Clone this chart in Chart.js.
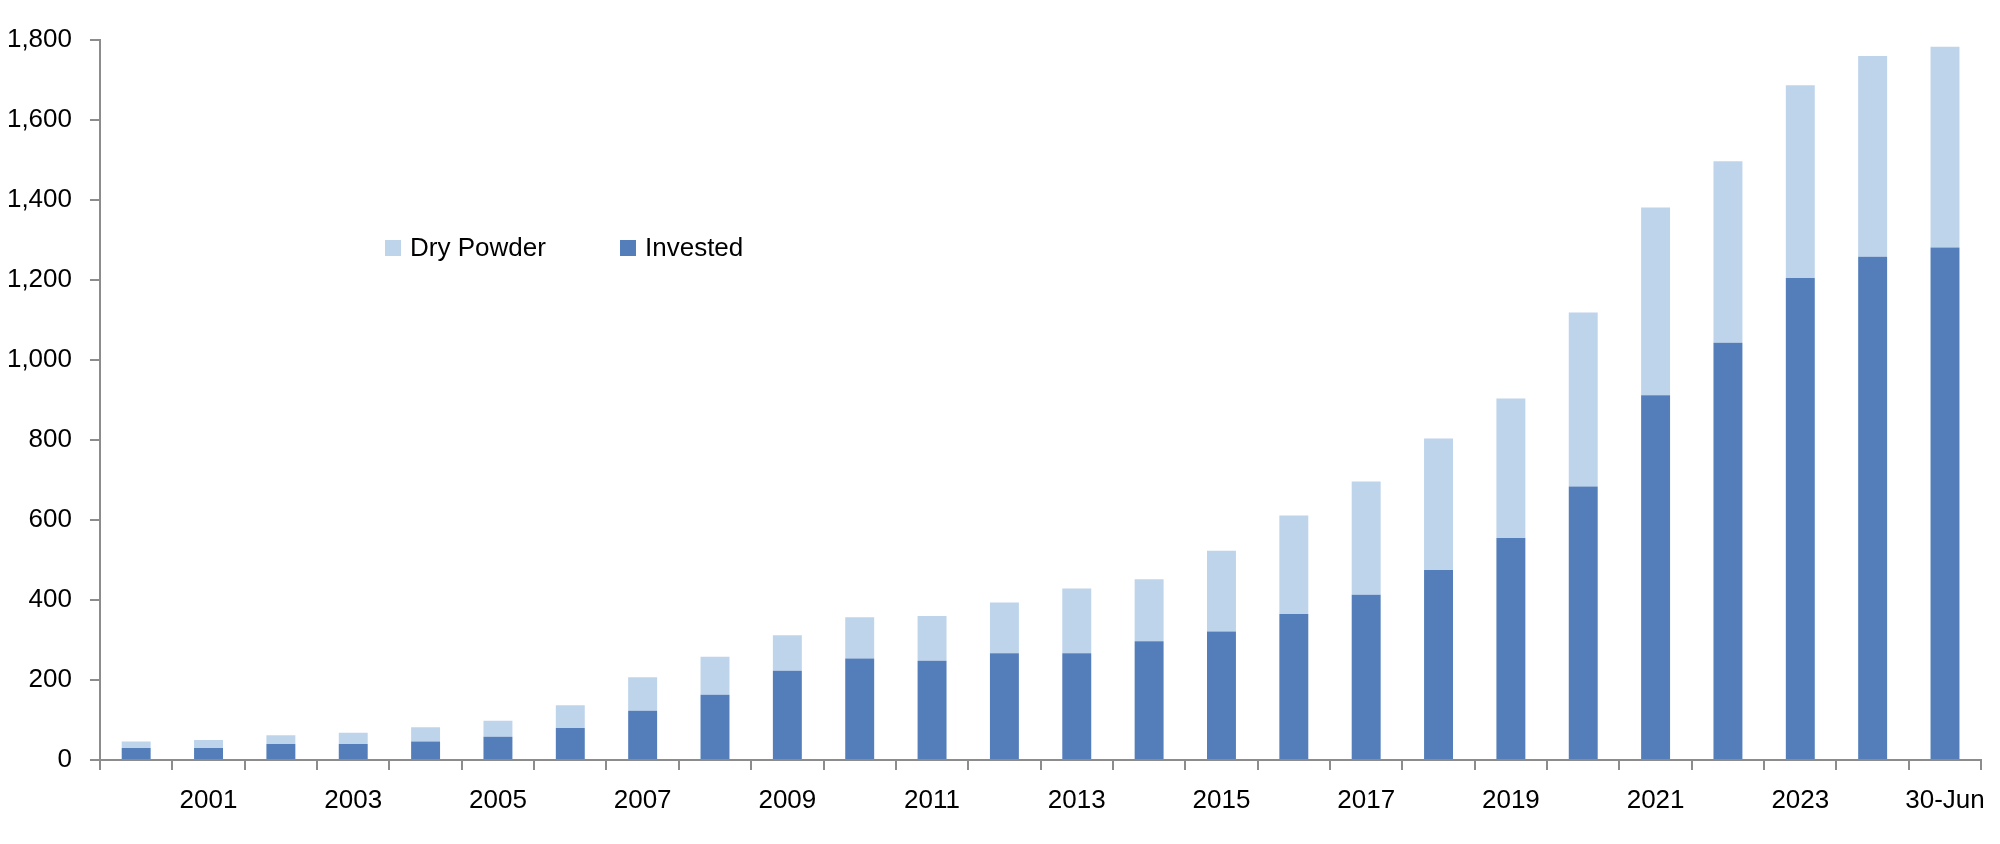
<!DOCTYPE html>
<html>
<head>
<meta charset="utf-8">
<script src="https://cdn.jsdelivr.net/npm/chart.js@4.4.0/dist/chart.umd.min.js"></script>
<style>
  html, body { margin: 0; padding: 0; background: #fff; }
  #wrap { width: 2000px; height: 844px; }
</style>
</head>
<body>
<div id="wrap"><canvas id="fund-chart" width="2000" height="844"></canvas></div>
<script>
// categories (x axis)
const years = ["2000", "2001", "2002", "2003", "2004", "2005", "2006", "2007", "2008", "2009",
  "2010", "2011", "2012", "2013", "2014", "2015", "2016", "2017", "2018", "2019",
  "2020", "2021", "2022", "2023", "2024", "30-Jun"];

// labels actually printed under the axis
const shownLabels = ["2001", "2003", "2005", "2007", "2009", "2011", "2013", "2015",
  "2017", "2019", "2021", "2023", "30-Jun"];

// series values
const invested = [30, 30, 40, 40, 46, 58, 80, 123, 163, 223, 254, 248, 267, 267, 297,
  321, 365, 413, 475, 555, 684, 912, 1043, 1205, 1258, 1281];
const dryPowder = [16, 20, 22, 28, 36, 40, 57, 84, 95, 89, 103, 112, 127, 162, 155,
  202, 246, 283, 329, 349, 435, 469, 454, 482, 502, 502];

// y axis ticks
const yTicks = [0, 200, 400, 600, 800, 1000, 1200, 1400, 1600, 1800];

const darkBlue = '#537eba';
const lightBlue = '#bdd4eb';
const axisGrey = '#8c8c8c';
const textColor = '#000';
const font = { family: "'Liberation Sans', Arial, sans-serif", size: 26 };

// legend drawn inside the plot, like the original
const insideLegend = {
  id: 'insideLegend',
  afterDraw(chart) {
    const ctx = chart.ctx;
    const order = [1, 0]; // Dry Powder first, then Invested
    const xs = [385, 620];
    const y = 248;
    ctx.save();
    ctx.font = `${font.size}px ${font.family}`;
    ctx.textBaseline = 'middle';
    ctx.textAlign = 'left';
    order.forEach((idx, i) => {
      const ds = chart.data.datasets[idx];
      ctx.fillStyle = ds.backgroundColor;
      ctx.fillRect(xs[i], y - 8, 16, 16);
      ctx.fillStyle = textColor;
      ctx.fillText(ds.label, xs[i] + 25, y + 1);
    });
    ctx.restore();
  }
};

const canvas = document.getElementById('fund-chart');

new Chart(canvas, {
  type: 'bar',
  data: {
    labels: years,
    datasets: [
      {
        label: 'Invested',
        data: invested,
        backgroundColor: darkBlue,
        barPercentage: 0.4,
        categoryPercentage: 1.0
      },
      {
        label: 'Dry Powder',
        data: dryPowder,
        backgroundColor: lightBlue,
        barPercentage: 0.4,
        categoryPercentage: 1.0
      }
    ]
  },
  options: {
    responsive: false,
    animation: false,
    layout: { padding: { top: 40, right: 13, left: 0, bottom: 0 } },
    plugins: {
      legend: { display: false },
      tooltip: { enabled: false }
    },
    scales: {
      x: {
        stacked: true,
        afterFit: (scale) => { scale.height = 84; },
        border: { display: true, color: axisGrey, width: 2 },
        grid: {
          offset: true,
          drawOnChartArea: false,
          drawTicks: true,
          tickLength: 10,
          color: axisGrey,
          lineWidth: 2
        },
        ticks: {
          autoSkip: false,
          maxRotation: 0,
          padding: 15,
          color: textColor,
          font: font,
          callback: function (value) {
            const lab = this.getLabelForValue(value);
            return shownLabels.includes(lab) ? lab : '';
          }
        }
      },
      y: {
        stacked: true,
        min: 0,
        max: 1800,
        afterFit: (scale) => { scale.width = 100; },
        afterBuildTicks: (scale) => { scale.ticks = yTicks.map(v => ({ value: v })); },
        border: { display: true, color: axisGrey, width: 2 },
        grid: {
          drawOnChartArea: false,
          drawTicks: true,
          tickLength: 10,
          color: axisGrey,
          lineWidth: 2
        },
        ticks: {
          padding: 18,
          color: textColor,
          font: font,
          callback: (v) => v.toLocaleString('en-US')
        }
      }
    }
  },
  plugins: [insideLegend]
});
</script>
</body>
</html>
